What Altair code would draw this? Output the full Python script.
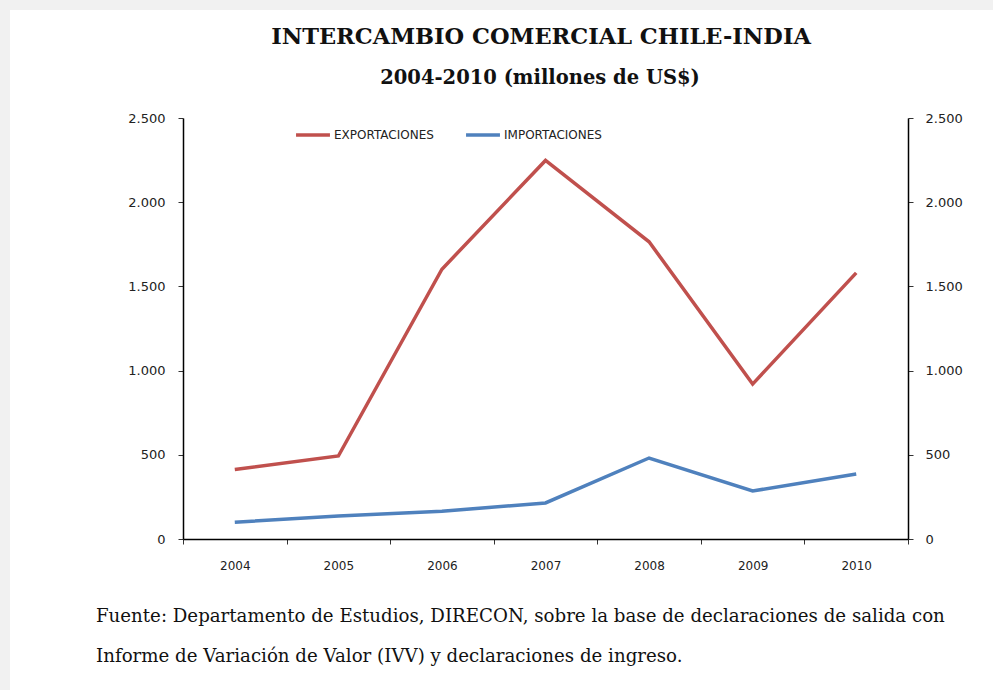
import altair as alt
import pandas as pd

years = ["2004", "2005", "2006", "2007", "2008", "2009", "2010"]
exportaciones = [413, 493, 1602, 2248, 1765, 920, 1580]
importaciones = [100, 137, 165, 214, 481, 285, 386]
series_names = ["EXPORTACIONES", "IMPORTACIONES"]
series_colors = ["#C0504D", "#4F81BD"]
y_ticks = [0, 500, 1000, 1500, 2000, 2500]

title_lines = ["INTERCAMBIO COMERCIAL CHILE-INDIA", "2004-2010 (millones de US$)"]
footer_lines = [
    "Fuente: Departamento de Estudios, DIRECON, sobre la base de declaraciones de salida con",
    "Informe de Variación de Valor (IVV) y declaraciones de ingreso.",
]

rows = []
for y, e, i in zip(years, exportaciones, importaciones):
    rows.append({"year": y, "serie": series_names[0], "valor": e})
    rows.append({"year": y, "serie": series_names[1], "valor": i})
df = pd.DataFrame(rows)

W, H = 725, 421
PL, PT = 183, 118

label_font = "DejaVu Sans"
label_color = "#222222"
serif = "DejaVu Serif"
fmt = "replace(format(datum.value, ','), ',', '.')"

x_enc = alt.X(
    "year:N",
    sort=years,
    bandPosition=0.5,
    scale=alt.Scale(type="band", paddingInner=0, paddingOuter=0),
    axis=alt.Axis(
        title=None, labelAngle=0, tickBand="extent", tickSize=5,
        domainColor="#000000", domainWidth=1.5, tickColor="#333333",
        labelFont=label_font, labelFontSize=12, labelColor=label_color,
        labelPadding=16, grid=False, zindex=1,
    ),
)

y_scale = alt.Scale(domain=[0, 2500], nice=False)

# frame decoration (page border of the original screenshot)
frame = alt.Chart(pd.DataFrame({"k": [0]})).mark_rect(color="#ffffff").encode(
    x=alt.value(10 - PL), x2=alt.value(993 - PL), y=alt.value(10 - PT), y2=alt.value(690 - PT)
)

lines = alt.Chart(df).mark_line(strokeWidth=3.5).encode(
    x=x_enc,
    y=alt.Y(
        "valor:Q", scale=y_scale,
        axis=alt.Axis(
            orient="left", title=None, values=y_ticks, labelExpr=fmt,
            tickSize=5, domainColor="#000000", domainWidth=1.5, tickColor="#333333",
            labelFont=label_font, labelFontSize=13, labelColor=label_color,
            labelPadding=13, grid=False, zindex=1,
        ),
    ),
    color=alt.Color(
        "serie:N",
        scale=alt.Scale(domain=series_names, range=series_colors),
        legend=alt.Legend(
            title=None, orient="none", legendX=111, legendY=-2, direction="horizontal",
            symbolType="stroke", symbolSize=1150, symbolStrokeWidth=3.5,
            labelFont=label_font, labelFontSize=12, labelColor=label_color,
            columnPadding=25, labelOffset=2, zindex=1,
        ),
    ),
    order=alt.Order("serie:N"),
)

right = alt.Chart(df).mark_line(opacity=0).encode(
    x=x_enc,
    y=alt.Y(
        "valor:Q", scale=y_scale,
        axis=alt.Axis(
            orient="right", title=None, values=y_ticks, labelExpr=fmt,
            tickSize=5, domainColor="#000000", domainWidth=1.5, tickColor="#333333",
            labelFont=label_font, labelFontSize=13, labelColor=label_color,
            labelPadding=12, grid=False, zindex=1,
        ),
    ),
    detail="serie:N",
)

txt_df = pd.DataFrame({"t": title_lines + footer_lines, "k": [0, 1, 2, 3]})


def text_layer(k, x, y, size, weight, align):
    return alt.Chart(txt_df).transform_filter(f"datum.k == {k}").mark_text(
        align=align, baseline="middle", font=serif, fontSize=size,
        fontWeight=weight, color="#111111",
    ).encode(text="t:N", x=alt.value(x), y=alt.value(y))


title1 = text_layer(0, 358, 37 - PT, 22.5, "bold", "center")
title2 = text_layer(1, 357, 78 - PT, 19.5, "bold", "center")
foot1 = text_layer(2, -87, 617 - PT, 18.2, "normal", "left")
foot2 = text_layer(3, -87, 657 - PT, 18.2, "normal", "left")

chart = alt.layer(frame, lines, right, title1, title2, foot1, foot2).resolve_scale(
    y="shared"
).resolve_axis(y="independent").properties(
    width=W, height=H,
    autosize=alt.AutoSizeParams(type="none"),
    padding={"left": PL, "top": PT, "right": 993 - PL - W, "bottom": 690 - PT - H},
    background="#f1f1f1",
).configure_view(stroke=None)

chart.save("out.html", embed_options={"renderer": "svg", "actions": False})
